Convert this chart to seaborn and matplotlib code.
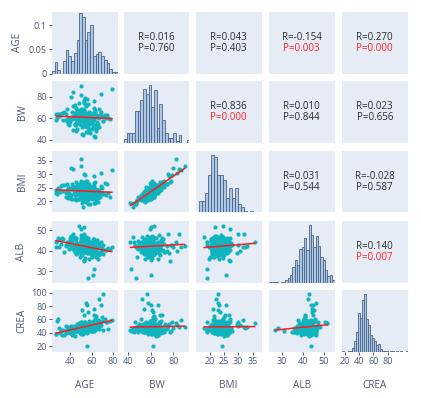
import numpy as np
import pandas as pd
import matplotlib
matplotlib.use("Agg")
import matplotlib.pyplot as plt
import seaborn as sns

variables = ["AGE", "BW", "BMI", "ALB", "CREA"]

age = [52, 47, 61, 55, 38, 66, 50, 58, 44, 71, 53, 49, 62, 35, 57, 51, 68, 46, 59, 28,
       54, 63, 41, 56, 50, 73, 48, 60, 33, 55, 52, 65, 45, 58, 39, 51, 69, 57, 42, 53,
       61, 30, 49, 56, 64, 50, 47, 75, 54, 43, 59, 52, 67, 36, 55, 60, 48, 53, 62, 45,
       57, 51, 40, 70, 54, 58, 46, 63, 27, 52, 56, 49, 66, 44, 60, 53, 37, 58, 50, 72,
       55, 48, 62, 42, 57, 51, 64, 34, 53, 59, 47, 68, 55, 41, 50, 61, 56, 45, 77, 52,
       58, 31, 54, 49, 65, 53, 43, 60, 56, 50, 39, 63, 52, 57, 46, 70, 54, 48, 61, 29,
       53, 59, 44, 55, 67, 51, 57, 38, 62, 50, 54, 47, 64, 56, 42, 58, 52, 74, 49, 55,
       60, 45, 53, 66, 51, 32, 57, 48, 62, 54, 40, 59, 52, 69, 46, 56, 61, 50, 43, 55,
       54, 63, 47, 58, 36, 52, 65, 50, 56, 44, 60, 53, 71, 48, 57, 41, 55, 62, 51, 79,
       56, 49, 61, 53, 27, 58, 46, 64, 52, 55, 37, 60, 50, 67, 54, 45, 59, 51, 63, 48]

bw = [58, 64, 52, 71, 60, 55, 67, 49, 62, 57, 75, 61, 54, 66, 59, 45, 63, 70, 56, 60,
      53, 68, 61, 57, 82, 60, 63, 59, 65, 47, 60, 56, 72, 62, 54, 58, 66, 51, 61, 77,
      59, 64, 55, 62, 48, 69, 57, 60, 53, 85, 63, 58, 52, 58, 61, 56, 74, 60, 43, 65,
      62, 57, 60, 62, 60, 66, 59, 51, 64, 58, 78, 55, 61, 63, 50, 68, 57, 60, 65, 63,
      61, 56, 66, 59, 73, 52, 63, 58, 60, 46, 67, 62, 55, 80, 57, 64, 60, 54, 59, 69,
      55, 62, 58, 65, 51, 60, 71, 57, 63, 90, 59, 54, 66, 61, 48, 62, 56, 68, 60, 64,
      57, 63, 60, 53, 69, 58, 62, 55, 76, 59, 64, 50, 61, 57, 66, 60, 44, 63, 58, 72,
      60, 55, 67, 62, 57, 64, 52, 59, 70, 61, 56, 65, 58, 83, 54, 62, 60, 67, 49, 63,
      59, 66, 56, 61, 64, 58, 53, 68, 60, 62, 55, 74, 57, 63, 47, 60, 65, 58, 61, 87,
      63, 57, 60, 54, 58, 59, 62, 51, 64, 58, 69, 56, 61, 60, 79, 55, 63, 59, 42, 62]

bmi = [23.5, 23.3, 21.3, 26.0, 25.2, 19.8, 25.5, 21.5, 23.0, 23.0, 30.0, 26.0, 21.3, 26.0, 22.0, 19.3, 21.7, 27.3, 22.4, 22.6,
       20.9, 27.3, 22.3, 23.1, 35.8, 22.5, 24.7, 21.1, 26.0, 19.8, 22.7, 24.2, 25.4, 23.9, 23.1, 20.5, 25.9, 20.5, 26.3, 27.2,
       24.0, 24.0, 23.7, 22.2, 20.2, 25.0, 24.6, 23.2, 21.9, 31.9, 22.2, 23.2, 22.1, 21.6, 23.9, 25.2, 26.6, 21.8, 19.3, 25.0,
       22.8, 23.1, 24.7, 23.3, 25.8, 23.3, 23.2, 21.6, 24.1, 24.4, 27.7, 22.0, 21.3, 25.4, 21.0, 25.4, 24.3, 22.3, 25.2, 27.0,
       23.9, 20.8, 25.9, 24.6, 26.4, 21.5, 21.6, 23.7, 26.8, 19.0, 26.1, 22.8, 23.2, 32.5, 24.5, 22.9, 23.3, 22.5, 21.8, 26.3,
       23.4, 23.6, 21.0, 25.4, 21.6, 25.6, 25.7, 22.6, 22.9, 33.2, 22.4, 23.4, 25.5, 21.6, 20.5, 24.9, 21.8, 24.5, 25.9, 24.8,
       21.5, 24.7, 24.5, 23.3, 24.4, 23.5, 23.7, 21.2, 29.6, 27.0, 23.5, 21.0, 24.5, 20.6, 25.2, 24.7, 18.1, 26.4, 21.4, 27.5,
       23.5, 23.8, 24.3, 24.3, 21.8, 25.8, 21.8, 20.9, 26.7, 24.6, 21.8, 23.2, 25.1, 30.6, 20.8, 24.2, 25.0, 24.0, 21.0, 24.0,
       24.1, 24.3, 22.8, 26.5, 23.3, 23.0, 22.8, 25.2, 21.4, 24.7, 23.9, 26.4, 22.8, 25.4, 19.2, 20.9, 25.5, 24.3, 23.0, 31.7,
       23.8, 23.7, 24.2, 20.1, 23.0, 25.5, 23.2, 22.5, 23.5, 22.8, 26.5, 21.3, 27.4, 23.0, 29.9, 22.3, 22.5, 23.8, 19.3, 23.3]

alb = [44.6, 39.1, 42.6, 40.3, 43.5, 35.9, 43.8, 44.8, 42.5, 38.3, 48.0, 41.4, 44.5, 39.2, 44.5, 44.3, 38.5, 46.1, 41.6, 44.8,
       40.0, 42.4, 47.1, 38.7, 44.0, 40.2, 51.8, 37.1, 46.1, 41.9, 40.7, 45.2, 39.6, 42.9, 42.7, 45.8, 44.0, 42.7, 45.2, 35.0,
       42.1, 41.8, 40.3, 43.4, 36.9, 45.3, 41.9, 41.1, 39.2, 48.3, 40.5, 44.4, 42.5, 43.0, 41.7, 44.3, 39.9, 51.5, 31.0, 43.0,
       43.2, 38.8, 46.1, 40.3, 42.7, 36.2, 46.2, 40.8, 42.0, 40.5, 43.0, 42.1, 43.7, 40.2, 42.7, 41.1, 44.0, 39.1, 42.5, 40.5,
       44.9, 40.9, 42.3, 45.6, 39.5, 46.5, 40.9, 45.5, 35.7, 42.6, 39.0, 39.5, 42.8, 42.0, 46.3, 41.5, 45.0, 45.4, 41.0, 40.5,
       41.3, 45.5, 39.3, 43.7, 39.2, 42.9, 45.8, 37.4, 43.6, 42.3, 40.9, 39.4, 43.2, 46.3, 41.4, 41.2, 44.0, 42.8, 28.3, 46.0,
       43.4, 39.7, 46.5, 41.2, 43.0, 37.7, 44.2, 43.3, 38.9, 50.6, 41.7, 43.9, 37.9, 44.5, 43.7, 40.1, 46.8, 40.7, 37.1, 43.4,
       40.5, 45.3, 42.7, 37.7, 47.2, 43.1, 42.9, 40.3, 44.8, 36.5, 45.1, 42.4, 41.0, 40.0, 38.4, 43.8, 41.5, 47.5, 40.6, 42.6,
       45.0, 40.9, 39.5, 43.1, 42.2, 40.7, 41.5, 38.0, 43.9, 46.8, 39.1, 42.5, 42.8, 41.5, 26.8, 46.1, 41.3, 45.7, 45.2, 41.6,
       39.6, 43.5, 45.9, 42.4, 44.1, 38.7, 43.1, 44.1, 40.6, 46.5, 42.6, 41.2, 43.9, 38.6, 42.8, 45.5, 40.8, 38.8, 44.4, 43.2]

crea = [44.8, 49.5, 43.1, 49.5, 43.2, 47.0, 41.9, 49.7, 48.6, 44.0, 50.1, 43.8, 75.3, 36.8, 52.4, 41.4, 50.0, 45.3, 55.1, 58.1,
        49.0, 46.6, 50.0, 41.3, 54.0, 56.2, 55.0, 50.5, 37.1, 49.0, 37.6, 56.2, 41.1, 57.2, 42.0, 43.8, 81.0, 50.8, 37.8, 42.0,
        47.9, 47.9, 46.5, 45.7, 47.0, 42.4, 48.4, 46.1, 46.8, 49.0, 50.7, 46.7, 90.8, 40.3, 52.9, 43.3, 46.1, 54.2, 43.0, 35.1,
        53.0, 43.7, 39.4, 58.3, 47.8, 43.2, 48.4, 61.1, 38.0, 47.5, 42.6, 49.0, 59.0, 41.9, 44.8, 67.0, 43.3, 50.0, 38.6, 60.8,
        47.9, 48.4, 44.3, 44.9, 52.8, 45.1, 64.5, 44.3, 41.4, 56.4, 42.5, 53.5, 41.2, 47.5, 47.7, 44.7, 81.9, 44.8, 57.7, 40.5,
        54.7, 40.3, 48.8, 41.5, 51.4, 55.6, 41.2, 43.0, 39.8, 49.5, 49.2, 47.7, 48.4, 43.9, 48.9, 63.4, 45.2, 45.9, 47.8, 60.8,
        43.7, 49.5, 48.8, 40.8, 58.1, 44.4, 71.3, 40.9, 53.3, 55.5, 47.5, 53.0, 46.6, 51.1, 36.3, 53.3, 47.4, 56.6, 40.5, 44.4,
        50.1, 46.0, 52.5, 59.2, 52.0, 44.9, 45.9, 46.2, 67.0, 41.9, 46.1, 44.3, 52.7, 52.1, 47.0, 19.8, 49.7, 56.1, 40.7, 50.2,
        43.5, 53.2, 45.6, 47.2, 50.5, 42.6, 53.0, 55.2, 47.9, 50.8, 42.7, 47.5, 98.3, 42.5, 45.0, 42.7, 51.8, 44.3, 73.9, 58.5,
        47.6, 42.5, 57.1, 49.4, 37.7, 52.9, 44.4, 45.4, 49.6, 84.7, 46.1, 46.4, 48.0, 45.8, 55.8, 43.9, 52.8, 45.7, 44.2, 47.1]

# Diagonal histograms: first bin edge, bin width, bar heights
age_hist_start, age_hist_width = 23.0, 2.5
age_hist = [0.006, 0.024, 0.008, 0.0, 0.026, 0.048, 0.037, 0.027, 0.043, 0.069, 0.126, 0.118,
            0.069, 0.086, 0.100, 0.037, 0.040, 0.045, 0.037, 0.029, 0.021, 0.010, 0.003, 0.003]
bw_hist_start, bw_hist_width = 36.4, 2.4
bw_hist = [11, 29, 29, 29, 99, 99, 132, 167, 150, 177, 111, 161, 44, 120, 69, 29, 14, 14, 29, 4, 24, 0, 0, 7]
bmi_hist_start, bmi_hist_width = 16.0, 0.92
bmi_hist = [0.5, 36, 36, 61, 116, 176, 171, 116, 116, 101, 46, 76, 46, 74, 26, 16, 6, 3, 6, 1, 0, 1]
alb_hist_start, alb_hist_width = 24.5, 1.0
alb_hist = [1, 1, 1, 1, 0, 1, 3, 9, 14, 24, 49, 69, 54, 104, 109, 139, 101, 177, 147, 109, 144, 114,
            79, 69, 39, 19, 24, 9]
crea_hist_start, crea_hist_width = 15.8, 2.8
crea_hist = [1, 0, 0, 1, 1, 12, 32, 62, 120, 107, 162, 180, 102, 82, 52, 42, 32, 22, 24, 7, 3, 1, 1, 0,
             1, 1, 0, 1, 0, 1, 0, 0, 1]

# Correlation annotations for the upper triangle (row, col)
upper_pairs = [(0, 1), (0, 2), (0, 3), (0, 4), (1, 2), (1, 3), (1, 4), (2, 3), (2, 4), (3, 4)]
r_values = [0.016, 0.043, -0.154, 0.270, 0.836, 0.010, 0.023, 0.031, -0.028, 0.140]
p_values = [0.760, 0.403, 0.003, 0.000, 0.000, 0.844, 0.656, 0.544, 0.587, 0.007]

# Axis ticks
age_ticks = [40, 60, 80]
bw_ticks = [40, 60, 80]
bmi_ticks = [20, 25, 30, 35]
alb_ticks = [30, 40, 50]
crea_yticks = [20, 40, 60, 80, 100]
crea_xticks = [20, 40, 60, 80]
age_hist_ticks = [0, 0.05, 0.1]
age_hist_ticklabels = ["0", "0.05", "0.1"]

df = pd.DataFrame({"AGE": age, "BW": bw, "BMI": bmi, "ALB": alb, "CREA": crea})

hists = {
    "AGE": (age_hist_start, age_hist_width, age_hist),
    "BW": (bw_hist_start, bw_hist_width, bw_hist),
    "BMI": (bmi_hist_start, bmi_hist_width, bmi_hist),
    "ALB": (alb_hist_start, alb_hist_width, alb_hist),
    "CREA": (crea_hist_start, crea_hist_width, crea_hist),
}
xranges = {"AGE": (23.5, 84.0), "BW": (36.4, 94.2), "BMI": (15.3, 38.1), "ALB": (23.8, 55.2)}
yranges = {"BW": (37.2, 94.9), "BMI": (15.9, 38.7), "ALB": (24.6, 54.4), "CREA": (12.2, 104.0)}
xticks = {"AGE": age_ticks, "BW": bw_ticks, "BMI": bmi_ticks, "ALB": alb_ticks, "CREA": crea_xticks}
yticks = {"BW": bw_ticks, "BMI": bmi_ticks, "ALB": alb_ticks, "CREA": crea_yticks}

sns.set_theme(style="white")
plt.rcParams["font.family"] = ["Open Sans", "DejaVu Sans"]

BG = "#E5ECF6"
TICKC = "#4a5873"
PT = "#10B4BF"
HFACE = "#ADC7E8"
HEDGE = "#4B6584"

W, H = 421, 398
fig = plt.figure(figsize=(W / 100, H / 100), dpi=100)
fig.patch.set_facecolor("white")

col_left = [52, 124, 196, 269, 342]
col_w = 65.5
row_top = [12, 81, 151, 221, 290]
row_h = 61.5

n = len(variables)
for i in range(n):
    for j in range(n):
        ax = fig.add_axes([col_left[j] / W, 1 - (row_top[i] + row_h) / H, col_w / W, row_h / H])
        ax.set_facecolor(BG)
        for sp in ax.spines.values():
            sp.set_visible(False)
        vi, vj = variables[i], variables[j]
        ax.tick_params(axis="both", which="both", length=2.2, width=0.7, color=TICKC,
                       pad=1.5, labelsize=6.5, labelcolor=TICKC, direction="out",
                       bottom=True, left=True)
        if i == j:
            start, width, heights = hists[vi]
            nb = len(heights)
            lo, hi = start, start + width * nb
            centers = [start + width * (k + 0.5) for k in range(nb)]
            hdf = pd.DataFrame({"x": centers, "w": heights})
            sns.histplot(data=hdf, x="x", weights="w", binwidth=width, binrange=(lo, hi),
                         ax=ax, color=HFACE, edgecolor=HEDGE, linewidth=0.6, alpha=1.0)
            ax.set_xlim(lo, hi)
            if i == 0:
                ax.set_ylim(0, 0.128)
            else:
                ax.set_ylim(0, max(heights) / 0.93)
        elif i > j:
            sns.scatterplot(x=df[vj], y=df[vi], ax=ax, color=PT, s=9, linewidth=0, alpha=1.0)
            sns.regplot(x=df[vj], y=df[vi], ax=ax, scatter=False, ci=None, truncate=True,
                        line_kws=dict(color="#FF1A1A", lw=1.1))
            ax.set_xlim(*xranges[vj])
            ax.set_ylim(*yranges[vi])
        else:
            k = upper_pairs.index((i, j))
            r, p = r_values[k], p_values[k]
            ax.set_xlim(0, 1)
            ax.set_ylim(0, 1)
            ax.text(0.5, 0.59, f"R={r:.3f}", ha="center", va="center", fontsize=7, color="#2b2b2b")
            ax.text(0.5, 0.40, f"P={p:.3f}", ha="center", va="center", fontsize=7,
                    color="#FF2020" if p < 0.05 else "#2b2b2b")
        ax.set_xlabel("")
        ax.set_ylabel("")

        if i == n - 1:
            ax.set_xticks(xticks[vj])
            ax.set_xticklabels([str(t) for t in xticks[vj]])
        else:
            ax.set_xticks([])
        if j == 0:
            if i == 0:
                ax.set_yticks(age_hist_ticks)
                ax.set_yticklabels(age_hist_ticklabels)
            else:
                ax.set_yticks(yticks[vi])
                ax.set_yticklabels([str(t) for t in yticks[vi]])
        else:
            ax.set_yticks([])
        ax.grid(False)

ylab_x = [17.5, 22, 22, 22, 22]
for i, v in enumerate(variables):
    fig.text(ylab_x[i] / W, 1 - (row_top[i] + row_h / 2) / H, v, rotation=90,
             ha="center", va="center", fontsize=7.2, color=TICKC)
    fig.text((col_left[i] + col_w / 2) / W, 1 - 385 / H, v,
             ha="center", va="center", fontsize=7.2, color=TICKC)

fig.savefig("out.png", dpi=100, facecolor="white")
